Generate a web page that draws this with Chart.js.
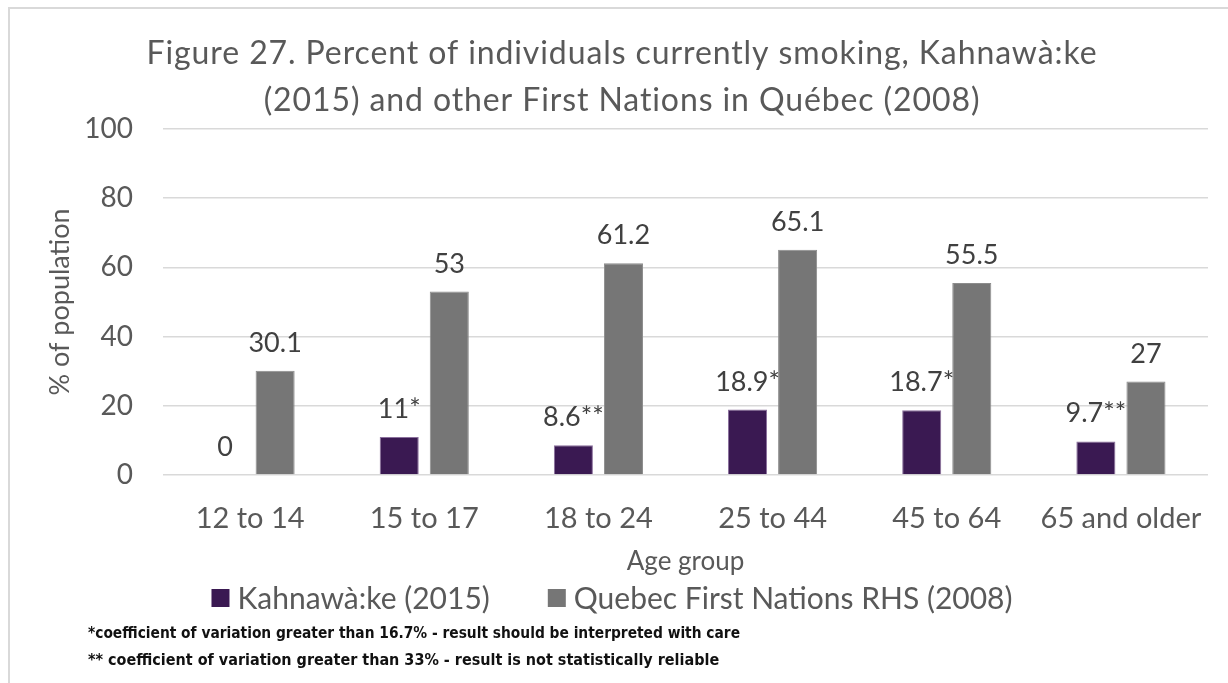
<!DOCTYPE html>
<html>
<head>
<meta charset="utf-8">
<title>Smoking by age group</title>
<script src="https://cdn.jsdelivr.net/npm/chart.js@4.4.1/dist/chart.umd.min.js"></script>
<style>
    html, body { margin: 0; padding: 0; background: #fff; }
    #wrap { position: relative; width: 1228px; height: 683px; overflow: hidden; }
    #frame { position: absolute; left: 8px; top: 7px; width: 1300px; height: 800px; border: 2px solid #d9d9d9; }
    #ourChart { position: absolute; left: 0; top: 0; }
</style>
</head>
<body>
<div id="wrap">
    <div id="frame"></div>
    <canvas id="ourChart" width="1228" height="683"></canvas>
</div>
<script>
const ageGroups = ['12 to 14', '15 to 17', '18 to 24', '25 to 44', '45 to 64', '65 and older'];
const kahnawakeValues = [0, 11, 8.6, 18.9, 18.7, 9.7];
const kahnawakeNotes = ['', '*', '**', '*', '*', '**'];
const quebecValues = [30.1, 53, 61.2, 65.1, 55.5, 27];
const quebecNotes = ['', '', '', '', '', ''];
const yTicks = [0, 20, 40, 60, 80, 100];

const titleLines = [
    'Figure 27. Percent of individuals currently smoking, Kahnawà:ke',
    '(2015) and other First Nations in Québec (2008)'
];
const footnotes = [
    '*coefficient of variation greater than 16.7% - result should be interpreted with care',
    '** coefficient of variation greater than 33% - result is not statistically reliable'
];

const FONT = 'Lato';
const TEXT = '#595959';

// value labels above each bar, with the reliability stars
const barLabels = {
    id: 'barLabels',
    afterDatasetsDraw(chart) {
        const ctx = chart.ctx;
        ctx.save();
        ctx.font = '27px ' + FONT;
        ctx.fillStyle = '#404040';
        ctx.textAlign = 'center';
        ctx.textBaseline = 'alphabetic';
        chart.data.datasets.forEach((ds, i) => {
            chart.getDatasetMeta(i).data.forEach((bar, j) => {
                ctx.fillText(ds.data[j] + ds.notes[j], bar.x, bar.y - 19);
            });
        });
        ctx.restore();
    }
};

// two-line heading, legend row and footnotes
const extraText = {
    id: 'extraText',
    afterDraw(chart) {
        const ctx = chart.ctx;
        ctx.save();

        ctx.font = '32px ' + FONT;
        ctx.letterSpacing = '0.9px';
        ctx.fillStyle = TEXT;
        ctx.textAlign = 'center';
        ctx.textBaseline = 'alphabetic';
        ctx.fillText(titleLines[0], 622, 64);
        ctx.fillText(titleLines[1], 622, 111);
        ctx.letterSpacing = '0px';

        ctx.textAlign = 'left';
        ctx.font = '30px ' + FONT;
        ctx.textBaseline = 'middle';
        const box = 18, gap = 8, spacing = 58, y = 598;
        const items = chart.data.datasets.map(ds => ({ text: ds.label, color: ds.backgroundColor }));
        let total = 0;
        items.forEach((it, i) => {
            it.w = box + gap + ctx.measureText(it.text).width;
            total += it.w + (i ? spacing : 0);
        });
        let x = 612 - total / 2;
        items.forEach(it => {
            ctx.fillStyle = it.color;
            ctx.fillRect(x, y - box / 2, box, box);
            ctx.fillStyle = TEXT;
            ctx.fillText(it.text, x + box + gap, y + 1);
            x += it.w + spacing;
        });

        ctx.font = 'bold 16px "DejaVu Sans Condensed"';
        ctx.fillStyle = '#111';
        ctx.filter = 'blur(0.5px)';
        ctx.fillText(footnotes[0], 88, 634, 652);
        ctx.fillText(footnotes[1], 88, 661, 632);
        ctx.restore();
    }
};

new Chart(document.getElementById('ourChart'), {
    type: 'bar',
    data: {
        labels: ageGroups,
        datasets: [
            {
                label: 'Kahnawà:ke (2015)',
                data: kahnawakeValues,
                notes: kahnawakeNotes,
                backgroundColor: '#3a1952',
                borderColor: '#8a6f9c',
                borderWidth: 1,
            },
            {
                label: 'Quebec First Nations RHS (2008)',
                data: quebecValues,
                notes: quebecNotes,
                backgroundColor: '#767676',
                borderColor: '#8c8c8c',
                borderWidth: 1,
            }
        ]
    },
    options: {
        responsive: false,
        animation: false,
        layout: {
            padding: { left: 0, right: 20, top: 129, bottom: 98 }
        },
        datasets: {
            bar: { categoryPercentage: 0.575, barPercentage: 0.78 }
        },
        scales: {
            x: {
                grid: { display: false },
                border: { display: false },
                ticks: { color: TEXT, font: { family: FONT, size: 29 }, padding: 18 },
                title: {
                    display: true,
                    text: 'Age group',
                    color: TEXT,
                    font: { family: FONT, size: 26 },
                    padding: { top: 0, bottom: 8 }
                },
                afterFit: scale => { scale.height = 110; }
            },
            y: {
                min: 0,
                max: 100,
                afterBuildTicks: scale => { scale.ticks = yTicks.map(v => ({ value: v })); },
                grid: { color: '#d9d9d9', lineWidth: 1.5, drawTicks: false },
                border: { display: false },
                ticks: { color: TEXT, font: { family: FONT, size: 28 }, padding: 30 },
                title: {
                    display: true,
                    text: '% of population',
                    color: TEXT,
                    font: { family: FONT, size: 27 },
                    padding: { top: 44, bottom: 0 }
                },
                afterFit: scale => { scale.width = 163; }
            }
        },
        plugins: {
            legend: { display: false },
            tooltip: { enabled: false },
            title: { display: false }
        }
    },
    plugins: [barLabels, extraText]
});
</script>
</body>
</html>
